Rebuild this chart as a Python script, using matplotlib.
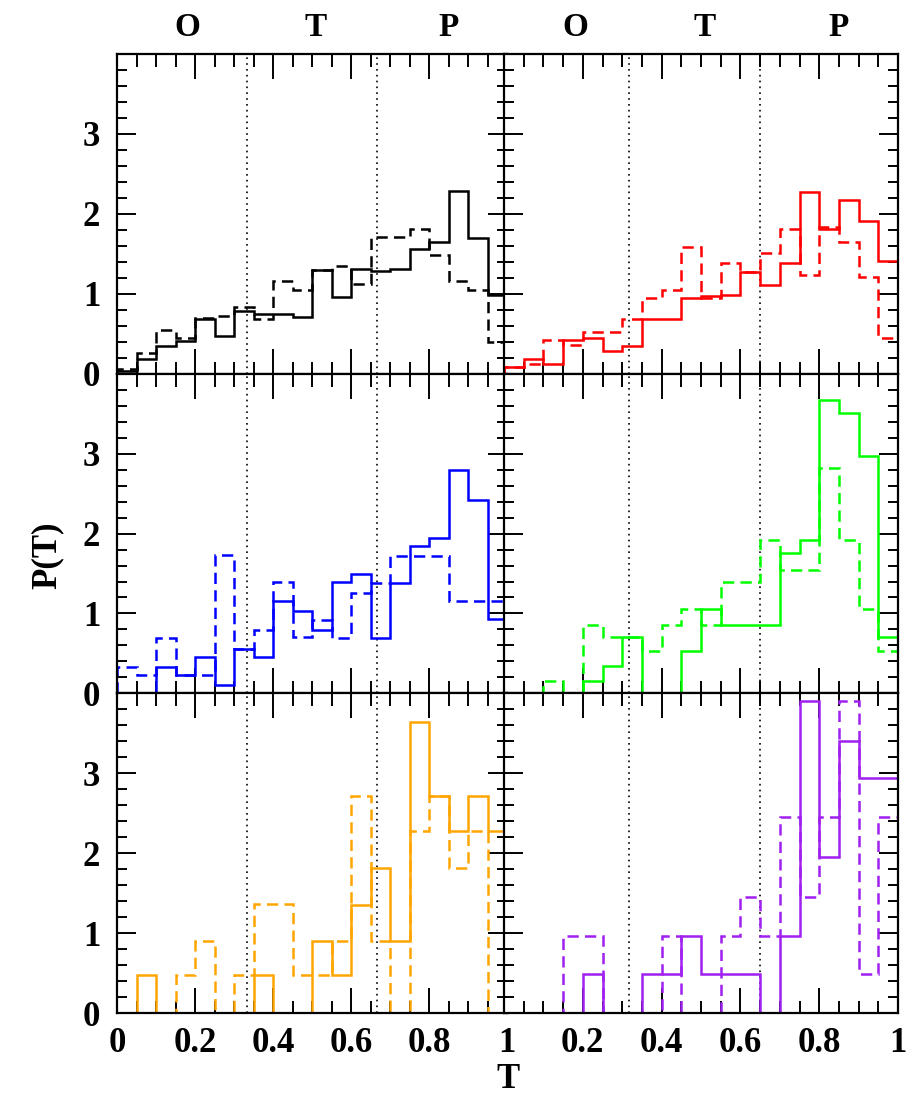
import numpy as np
import matplotlib
matplotlib.use("Agg")
import matplotlib.pyplot as plt
from matplotlib.ticker import MultipleLocator

# ---------------- data ----------------
bin_edges = np.linspace(0.0, 1.0, 21)

black_solid = [0.03, 0.19, 0.35, 0.41, 0.68, 0.47, 0.79, 0.75, 0.75, 0.71,
               1.30, 0.96, 1.31, 1.28, 1.31, 1.56, 1.65, 2.28, 1.70, 0.99]
black_dashed = [0.06, 0.26, 0.55, 0.45, 0.70, 0.72, 0.84, 0.69, 1.16, 1.05,
                1.30, 1.35, 1.12, 1.71, 1.71, 1.81, 1.48, 1.16, 1.05, 0.40]

red_solid = [0.09, 0.19, 0.12, 0.42, 0.45, 0.28, 0.35, 0.69, 0.69, 0.95,
             0.97, 0.98, 1.27, 1.11, 1.39, 2.27, 1.81, 2.17, 1.91, 1.41]
red_dashed = [0.09, 0.12, 0.42, 0.36, 0.52, 0.52, 0.69, 0.95, 1.05, 1.58,
              0.95, 1.39, 1.27, 1.51, 1.81, 1.24, 1.83, 1.65, 1.21, 0.45]

blue_solid = [0.0, 0.0, 0.33, 0.23, 0.46, 0.10, 0.56, 0.46, 1.15, 1.03,
              0.79, 1.39, 1.49, 0.69, 1.38, 1.84, 1.95, 2.79, 2.42, 0.93]
blue_dashed = [0.33, 0.23, 0.69, 0.23, 0.23, 1.73, 0.56, 0.79, 1.39, 0.70,
               0.92, 0.69, 1.26, 1.38, 1.72, 1.72, 1.72, 1.15, 1.15, 1.15]

green_solid = [0.0, 0.0, 0.0, 0.0, 0.16, 0.34, 0.70, 0.0, 0.0, 0.53,
               1.06, 0.85, 0.85, 0.85, 1.76, 1.92, 3.67, 3.51, 2.97, 0.70]
green_dashed = [0.0, 0.0, 0.16, 0.0, 0.85, 0.70, 0.70, 0.53, 0.85, 1.06,
                0.85, 1.39, 1.39, 1.92, 1.55, 1.55, 2.82, 1.92, 1.06, 0.53]

orange_solid = [0.0, 0.47, 0.0, 0.0, 0.0, 0.0, 0.0, 0.47, 0.0, 0.0,
                0.90, 0.47, 1.35, 1.81, 0.90, 3.64, 2.72, 2.28, 2.72, 2.28]
orange_dashed = [0.0, 0.0, 0.0, 0.47, 0.90, 0.0, 0.47, 1.36, 1.36, 0.47,
                 0.47, 0.90, 2.72, 0.90, 0.0, 2.28, 2.72, 1.81, 2.28, 0.0]

purple_solid = [0.0, 0.0, 0.0, 0.0, 0.49, 0.0, 0.0, 0.49, 0.49, 0.96,
                0.49, 0.49, 0.49, 0.0, 0.96, 3.90, 1.95, 3.40, 2.94, 2.94]
purple_dashed = [0.0, 0.0, 0.0, 0.96, 0.96, 0.0, 0.0, 0.0, 0.96, 0.0,
                 0.0, 0.96, 1.45, 0.96, 2.45, 1.45, 2.45, 3.90, 0.49, 2.45]

divider_left = [1 / 3, 2 / 3]
divider_right = [0.318, 0.650]
class_labels = ["O", "T", "P"]
class_label_pos = [0.18, 0.51, 0.85]

x_ticks = [0.0, 0.2, 0.4, 0.6, 0.8, 1.0]
x_labels_left = ["0", "0.2", "0.4", "0.6", "0.8", "1"]
x_labels_right = ["", "0.2", "0.4", "0.6", "0.8", "1"]
y_ticks = [0, 1, 2, 3, 4]
y_labels = ["0", "1", "2", "3", ""]

panels = [
    (black_solid, black_dashed, "black"),
    (red_solid, red_dashed, "#ff0000"),
    (blue_solid, blue_dashed, "#0000ff"),
    (green_solid, green_dashed, "#00ff00"),
    (orange_solid, orange_dashed, "#ffa500"),
    (purple_solid, purple_dashed, "#a020f0"),
]

# ---------------- figure ----------------
W, H = 919, 1120
fig = plt.figure(figsize=(W / 100, H / 100), dpi=100)
FONT = "Liberation Serif"
WEIGHT = "bold"

col_px = [(117, 390), (504, 394)]
row_top = [54, 373.7, 693.3]
row_h = 319.7


def px_axes(x0, w, top, h):
    return fig.add_axes([x0 / W, 1 - (top + h) / H, w / W, h / H])


for i, (solid, dashed, color) in enumerate(panels):
    r, c = divmod(i, 2)
    x0, w = col_px[c]
    ax = px_axes(x0, w, row_top[r], row_h)
    ax.set_xlim(0, 1)
    ax.set_ylim(0, 4)

    for xv in (divider_left if c == 0 else divider_right):
        ax.axvline(xv, color="black", lw=1.2, linestyle=(0, (1, 2.5)), zorder=1)

    ax.stairs(solid, bin_edges, baseline=0, fill=False, color=color,
              lw=1.8, zorder=3)
    ax.stairs(dashed, bin_edges, baseline=0, fill=False, color=color,
              lw=1.8, linestyle=(0, (4.5, 2.5)), zorder=2)

    ax.set_xticks(x_ticks)
    ax.xaxis.set_minor_locator(MultipleLocator(0.05))
    ax.set_yticks(y_ticks)
    ax.yaxis.set_minor_locator(MultipleLocator(0.2))

    if r == 2:
        ax.set_xticklabels(x_labels_left if c == 0 else x_labels_right)
    else:
        ax.set_xticklabels([""] * len(x_ticks))
    if c == 0:
        ax.set_yticklabels(y_labels)
    else:
        ax.set_yticklabels([""] * len(y_ticks))

    ax.tick_params(which="both", direction="in", top=True, right=True,
                   width=1.4, colors="black")
    ax.tick_params(axis="x", which="major", length=18, pad=10)
    ax.tick_params(axis="x", which="minor", length=9)
    ax.tick_params(axis="y", which="major", length=14, pad=12)
    ax.tick_params(axis="y", which="minor", length=7)
    for lab in ax.get_xticklabels() + ax.get_yticklabels():
        lab.set_fontfamily(FONT)
        lab.set_fontsize(25)
        lab.set_fontweight(WEIGHT)
    for sp in ax.spines.values():
        sp.set_linewidth(1.6)
        sp.set_zorder(5)

    if r == 0:
        for lab, xp in zip(class_labels, class_label_pos):
            ax.text(xp, 1.035, lab, transform=ax.get_xaxis_transform(),
                    ha="center", va="bottom", fontsize=24, family=FONT,
                    fontweight=WEIGHT)

fig.text(47 / W, 1 - 555 / H, "P(T)", rotation=90, ha="center", va="center",
         fontsize=25, family=FONT, fontweight=WEIGHT)
fig.text(508 / W, 1 - 1080 / H, "T", ha="center", va="center",
         fontsize=25, family=FONT, fontweight=WEIGHT)

fig.savefig("out.png", dpi=100)
